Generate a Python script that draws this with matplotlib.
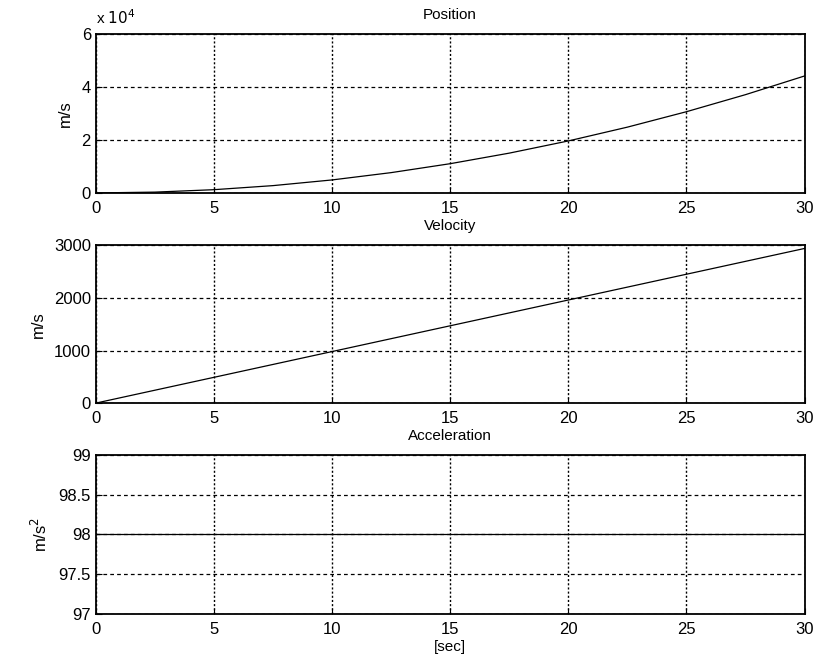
import matplotlib
matplotlib.use('Agg')
import matplotlib.pyplot as plt

plt.rcParams['font.family'] = ['Liberation Sans', 'DejaVu Sans']
plt.rcParams['font.size'] = 12

# time axis [sec] and values
t = [0, 2.5, 5, 7.5, 10, 12.5, 15, 17.5, 20, 22.5, 25, 27.5, 30]
position = [0, 306, 1225, 2756, 4900, 7656, 11025, 15006, 19600, 24806, 30625, 37056, 44100]
velocity = [0, 245, 490, 735, 980, 1225, 1470, 1715, 1960, 2205, 2450, 2695, 2940]
acceleration = [98, 98, 98, 98, 98, 98, 98, 98, 98, 98, 98, 98, 98]

xticks = [0, 5, 10, 15, 20, 25, 30]

fig = plt.figure(figsize=(8.26, 6.63), dpi=100)
ax1 = fig.add_axes([0.116, 0.709, 0.858, 0.240])
ax2 = fig.add_axes([0.116, 0.392, 0.858, 0.238])
ax3 = fig.add_axes([0.116, 0.074, 0.858, 0.240])

def style(ax, title, ylabel, ylim, yticks, yticklabels):
    ax.set_xlim(0, 30)
    ax.set_ylim(*ylim)
    ax.set_xticks(xticks)
    ax.set_yticks(yticks)
    ax.set_yticklabels(yticklabels)
    ax.set_title(title, fontsize=11, pad=11)
    ax.set_ylabel(ylabel, fontsize=12, labelpad=6)
    ax.xaxis.grid(True, color='black', linestyle=(0, (1.5, 1.5)), linewidth=1.0)
    ax.yaxis.grid(True, color='black', linestyle=(0, (3, 2.5)), linewidth=0.9)
    ax.tick_params(direction='in', length=4, color='black', labelsize=12)
    ax.tick_params(axis='x', pad=6)
    for s in ax.spines.values():
        s.set_linewidth(1.3)

ax1.plot(t, position, color='black', linewidth=0.9)
style(ax1, 'Position', 'm/s', (0, 60000), [0, 20000, 40000, 60000], ['0', '2', '4', '6'])
ax1.text(0.0, 1.04, r'x $10^{4}$', transform=ax1.transAxes, fontsize=11, ha='left', va='bottom')

ax2.plot(t, velocity, color='black', linewidth=0.9)
style(ax2, 'Velocity', 'm/s', (0, 3000), [0, 1000, 2000, 3000], ['0', '1000', '2000', '3000'])

ax3.plot(t, acceleration, color='black', linewidth=0.9)
style(ax3, 'Acceleration', r'm/s$^2$', (97, 99), [97, 97.5, 98, 98.5, 99], ['97', '97.5', '98', '98.5', '99'])
ax3.set_xlabel('[sec]', fontsize=11, labelpad=2)

fig.savefig('out.png', dpi=100)
